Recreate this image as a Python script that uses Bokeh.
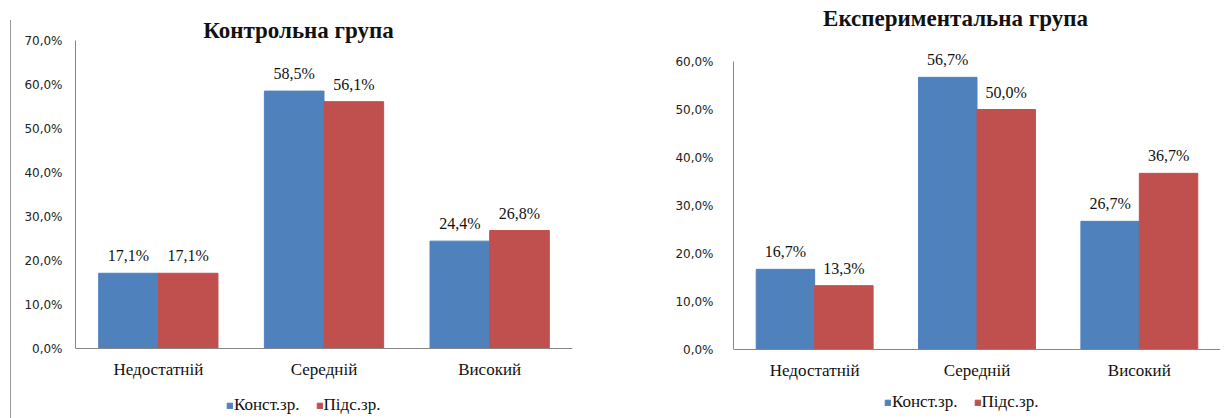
from bokeh.plotting import figure
from bokeh.layouts import row, column
from bokeh.models import (ColumnDataSource, FactorRange, Range1d, FixedTicker,
                          CustomJSTickFormatter, LabelSet, Label, Legend, LegendItem,
                          Span, Div, Spacer)
from bokeh.transform import dodge
from bokeh.embed import file_html
from bokeh.resources import INLINE

categories = ["Недостатній", "Середній", "Високий"]
series_names = ["Конст.зр.", "Підс.зр."]
control_const = [17.1, 58.5, 24.4]
control_pids = [17.1, 56.1, 26.8]
exper_const = [16.7, 56.7, 26.7]
exper_pids = [13.3, 50.0, 36.7]
titles = ["Контрольна група", "Експериментальна група"]
control_ymax = 70
exper_ymax = 60
tick_step = 10

BLUE = "#4F81BD"
RED = "#C0504D"
AXIS = "#868686"
SERIF = "Liberation Serif"
SANS = "DejaVu Sans"
H = 418


def fmt(v):
    return f"{v:.1f}".replace(".", ",") + "%"


def make_chart(a, b, title, width, ymax, borders, zero_px, px_per_unit,
               title_pos, legend_pos, ytick_standoff):
    src = ColumnDataSource(dict(cat=categories, a=a, b=b, zero=[0] * len(categories),
                                la=[fmt(v) for v in a], lb=[fmt(v) for v in b]))
    y_top = zero_px / px_per_unit
    y_bot = -(H - zero_px) / px_per_unit
    p = figure(width=width, height=H, x_range=FactorRange(*categories),
               y_range=Range1d(y_bot, y_top), output_backend="svg", toolbar_location=None,
               min_border_left=borders[0], min_border_right=borders[1],
               min_border_top=0, min_border_bottom=0, margin=0)
    p.outline_line_color = None
    p.xgrid.grid_line_color = None
    p.ygrid.grid_line_color = None
    p.xaxis.visible = False

    r1 = p.vbar(x=dodge("cat", -0.18, range=p.x_range), top="a", bottom=0, width=0.36,
                source=src, fill_color=BLUE, line_color=BLUE)
    r2 = p.vbar(x=dodge("cat", 0.18, range=p.x_range), top="b", bottom=0, width=0.36,
                source=src, fill_color=RED, line_color=RED)

    p.add_layout(Span(location=0, dimension="width", line_color=AXIS, line_width=1))

    for col, lab, off in (("a", "la", -0.18), ("b", "lb", 0.18)):
        p.add_layout(LabelSet(x=dodge("cat", off, range=p.x_range), y=col, text=lab,
                              source=src, text_align="center", text_baseline="bottom",
                              y_offset=9, text_font=SERIF, text_font_size="16px",
                              text_color="#111111"))

    p.add_layout(LabelSet(x="cat", y="zero", text="cat", source=src, text_align="center",
                          text_baseline="top", y_offset=-11, text_font=SERIF,
                          text_font_size="17px", text_color="#111111"))

    p.yaxis.bounds = (0, ymax)
    p.yaxis.ticker = FixedTicker(ticks=list(range(0, ymax + 1, tick_step)))
    p.yaxis.formatter = CustomJSTickFormatter(
        code="return tick.toFixed(1).replace('.', ',') + '%';")
    p.yaxis.major_label_text_font = SANS
    p.yaxis.major_label_text_font_size = "12px"
    p.yaxis.major_label_text_color = "#222222"
    p.yaxis.major_label_standoff = ytick_standoff
    p.yaxis.major_tick_line_color = None
    p.yaxis.minor_tick_line_color = None
    p.yaxis.axis_line_color = AXIS
    p.yaxis.major_tick_out = 0
    p.yaxis.major_tick_in = 0

    frame_w = width - borders[0] - borders[1]
    tx = (title_pos[0] - borders[0]) / (frame_w / len(categories))
    ty = (zero_px - title_pos[1]) / px_per_unit
    p.add_layout(Label(x=tx, y=ty, text=title, text_align="center",
                       text_baseline="middle", text_font=SERIF, text_font_size="23px",
                       text_font_style="bold", text_color="#111111"))

    legend = Legend(items=[LegendItem(label=series_names[0], renderers=[r1]),
                           LegendItem(label=series_names[1], renderers=[r2])],
                    orientation="horizontal", location=legend_pos,
                    glyph_width=7, glyph_height=7, label_standoff=1, spacing=16,
                    padding=0, margin=0, border_line_color=None,
                    background_fill_alpha=0, label_text_font=SERIF,
                    label_text_font_size="17px", label_text_color="#111111",
                    label_height=14)
    p.add_layout(legend, "center")
    return p


# left figure starts at x=11 (after the thin border line)
p1 = make_chart(control_const, control_pids, titles[0], 619, control_ymax,
                (64, 58), 348, 4.4, (298 - 11, 30), (151, 3), 13)
p2 = make_chart(exper_const, exper_pids, titles[1], 594, exper_ymax,
                (103, 4), 349, 4.8, (955 - 630, 18), (151, 6), 20)

border = column(Spacer(height=20, width=1, margin=0),
                Div(width=1, height=H - 20, margin=0,
                    styles={"background-color": "#9a9a9a"}),
                spacing=0, margin=0)
layout = row(Spacer(width=10, height=H, margin=0), border, p1, p2, spacing=0, margin=0)
open("out.html", "w").write(file_html(layout, INLINE))
